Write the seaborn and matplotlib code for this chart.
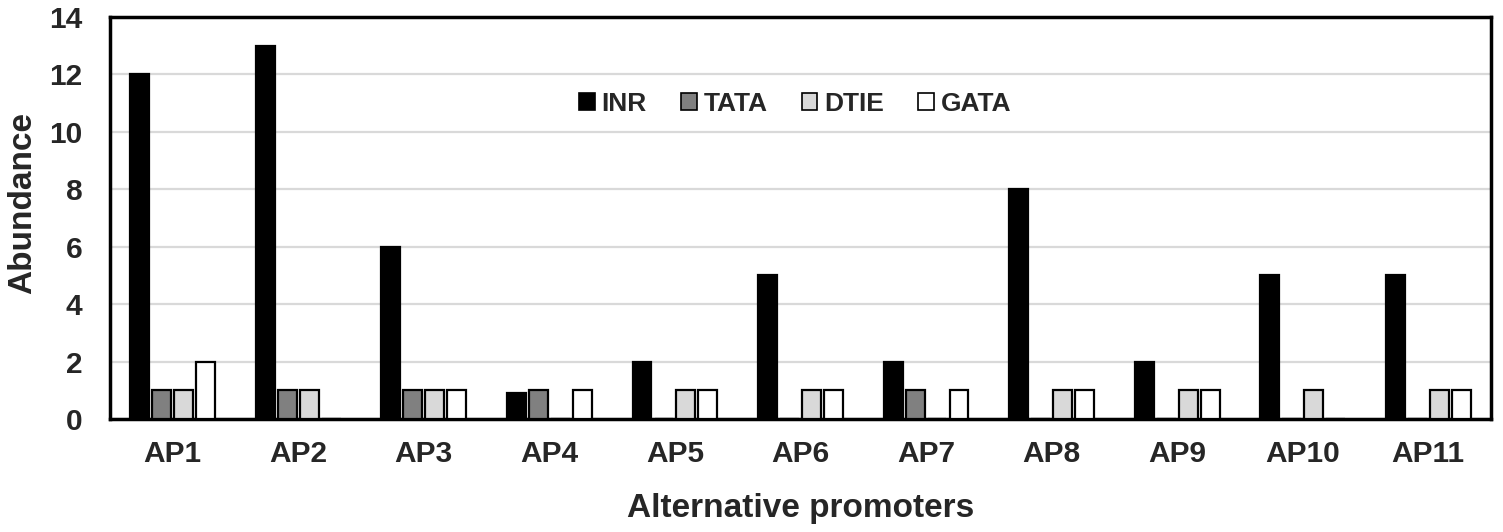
import matplotlib
matplotlib.use("Agg")
import matplotlib.pyplot as plt
import seaborn as sns
import pandas as pd
from matplotlib.patches import Patch

categories = ["AP1", "AP2", "AP3", "AP4", "AP5", "AP6", "AP7", "AP8", "AP9", "AP10", "AP11"]
series_names = ["INR", "TATA", "DTIE", "GATA"]
inr = [12, 13, 6, 0.9, 2, 5, 2, 8, 2, 5, 5]
tata = [1, 1, 1, 1, 0, 0, 1, 0, 0, 0, 0]
dtie = [1, 1, 1, 0, 1, 1, 0, 1, 1, 1, 1]
gata = [2, 0, 1, 1, 1, 1, 1, 1, 1, 0, 1]
colors = {"INR": "#000000", "TATA": "#808080", "DTIE": "#d9d9d9", "GATA": "#ffffff"}

rows = []
for name, vals in zip(series_names, [inr, tata, dtie, gata]):
    for c, v in zip(categories, vals):
        rows.append({"Promoter": c, "Element": name, "Abundance": v})
df = pd.DataFrame(rows)

sns.set_style("white")
plt.rcParams["font.family"] = ["Liberation Sans", "DejaVu Sans"]
plt.rcParams["font.weight"] = "bold"

fig = plt.figure(figsize=(15.03, 5.32), dpi=100)
ax = fig.add_axes([0.0732, 0.2124, 0.9188, 0.7556])

sns.barplot(data=df, x="Promoter", y="Abundance", hue="Element",
            order=categories, hue_order=series_names, palette=colors,
            width=0.7, gap=0.14, edgecolor="black", linewidth=1.6,
            ax=ax, legend=False, zorder=3)

ax.set_xlim(-0.5, len(categories) - 0.5)
ax.set_ylim(0, 14)
ax.set_yticks(range(0, 15, 2))
ax.yaxis.grid(True, color="#d9d9d9", linewidth=1.6, zorder=0)
ax.set_axisbelow(True)
for s in ax.spines.values():
    s.set_visible(True)
    s.set_color("black")
    s.set_linewidth(2.5)

ax.tick_params(axis="both", length=0, labelsize=21.5)
ax.tick_params(axis="y", pad=20)
ax.tick_params(axis="x", pad=15)
for lab in ax.get_xticklabels() + ax.get_yticklabels():
    lab.set_fontweight("bold")

ax.set_xlabel("Alternative promoters", fontsize=24, fontweight="bold", labelpad=18)
ax.set_ylabel("Abundance", fontsize=24, fontweight="bold")
ax.yaxis.set_label_coords(-0.052, 0.537)

handles = [Patch(facecolor=colors[n], edgecolor="black", linewidth=1.2) for n in series_names]
ax.legend(handles, series_names, loc="center", bbox_to_anchor=(0.496, 0.784),
          ncol=4, frameon=False, handlelength=0.6, handleheight=0.6,
          handletextpad=0.25, columnspacing=1.3, prop={"weight": "bold", "size": 19})

fig.savefig("out.png", dpi=100)
